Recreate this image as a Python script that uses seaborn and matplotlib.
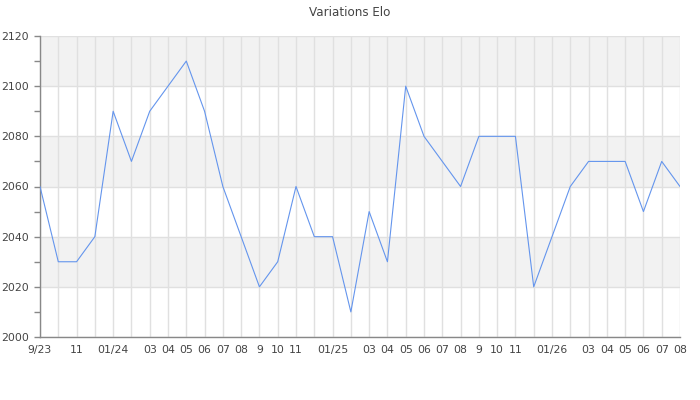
import numpy as np
import pandas as pd
import matplotlib
matplotlib.use('Agg')
import matplotlib.pyplot as plt
import seaborn as sns

# ===================== 数据 =====================
months = ['2023-09', '2023-10', '2023-11', '2023-12', '2024-01', '2024-02',
          '2024-03', '2024-04', '2024-05', '2024-06', '2024-07', '2024-08',
          '2024-09', '2024-10', '2024-11', '2024-12', '2025-01', '2025-02',
          '2025-03', '2025-04', '2025-05', '2025-06', '2025-07', '2025-08',
          '2025-09', '2025-10', '2025-11', '2025-12', '2026-01', '2026-02',
          '2026-03', '2026-04', '2026-05', '2026-06', '2026-07', '2026-08']
elo = [2060, 2030, 2030, 2040, 2090, 2070, 2090, 2100, 2110, 2090, 2060, 2040,
       2020, 2030, 2060, 2040, 2040, 2010, 2050, 2030, 2100, 2080, 2070, 2060,
       2080, 2080, 2080, 2020, 2040, 2060, 2070, 2070, 2070, 2050, 2070, 2060]
month_labels = ['9/23', '', '11', '', '01/24', '', '03', '04', '05', '06', '07', '08',
                '9', '10', '11', '', '01/25', '', '03', '04', '05', '06', '07', '08',
                '9', '10', '11', '', '01/26', '', '03', '04', '05', '06', '07', '08']
y_ticks = [2000, 2020, 2040, 2060, 2080, 2100, 2120]

df = pd.DataFrame({'month': months, 'elo': elo})
df['pos'] = np.arange(len(df))

# ===================== 绘图 =====================
sns.set_style('white')
plt.rcParams['font.family'] = ['DejaVu Sans']
text_col = '#444444'

fig = plt.figure(figsize=(7, 4), dpi=100)
ax = fig.add_axes([40 / 700, 63 / 400, 640 / 700, 301 / 400])

# 交替灰色背景带
for lo, hi in zip(y_ticks[1::2], y_ticks[2::2]):
    ax.axhspan(lo, hi, color='#f2f2f2', zorder=0, lw=0)

sns.lineplot(data=df, x='pos', y='elo', ax=ax, color='#6495ED', linewidth=0.8, zorder=3)

ax.set_xlim(0, len(df) - 1)
ax.set_ylim(y_ticks[0], y_ticks[-1])
ax.set_xticks(df['pos'])
ax.set_xticklabels(month_labels)
ax.set_yticks(y_ticks)
ax.set_yticks([v + 10 for v in y_ticks[:-1]], minor=True)
ax.grid(True, which='major', color='#e0e0e0', linewidth=1.0, zorder=1)
ax.set_axisbelow(True)

ax.tick_params(axis='x', length=0, pad=6, labelsize=7.8, labelcolor=text_col)
ax.tick_params(axis='y', which='major', length=4, width=1, color='#888888', pad=4,
               labelsize=7.8, labelcolor=text_col, left=True)
ax.tick_params(axis='y', which='minor', length=4, width=1, color='#888888', left=True)
ax.set_xlabel('')
ax.set_ylabel('')

for side in ['top', 'right']:
    ax.spines[side].set_visible(False)
for side in ['left', 'bottom']:
    ax.spines[side].set_color('#888888')
    ax.spines[side].set_linewidth(1.0)

fig.text(0.5, 1 - 12 / 400, 'Variations Elo', ha='center', va='center',
         fontsize=8.6, color=text_col)

fig.savefig('out.png', dpi=100)
